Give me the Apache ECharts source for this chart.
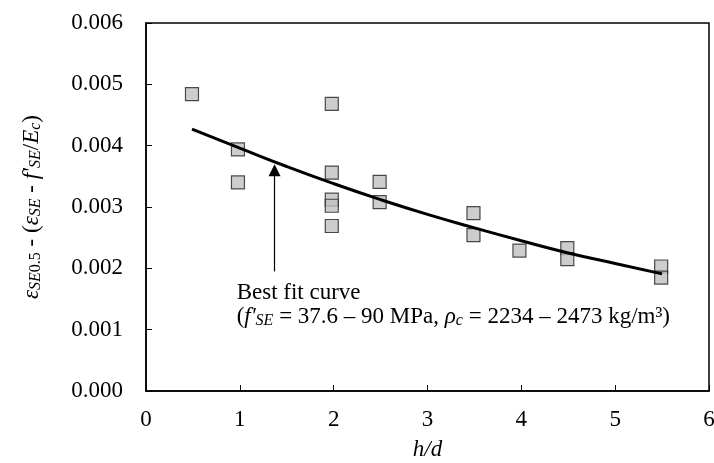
<!DOCTYPE html>
<html><head><meta charset="utf-8">
<script src="https://cdn.jsdelivr.net/npm/echarts@6/dist/echarts.min.js"></script>
<style>html,body{margin:0;padding:0;background:#fff}#c{width:714px;height:463px}</style>
</head><body><div id="c"></div>
<script>
// Measured data points (h/d vs strain)
const hd = [0.49, 0.98, 0.98, 1.98, 1.98, 1.98, 1.98, 1.98, 2.49, 2.49, 3.49, 3.49, 3.98, 4.49, 4.49, 5.49, 5.49];
const strain = [0.00484, 0.00394, 0.00340, 0.00468, 0.00356, 0.00312, 0.00302, 0.00269, 0.00341, 0.00308, 0.00290, 0.00254, 0.00229, 0.00233, 0.00215, 0.00203, 0.00185];
// Best fit curve
const fitHd = [0.49, 1.0, 1.5, 2.0, 2.5, 3.0, 3.5, 4.0, 4.5, 5.0, 5.5];
const fitStrain = [0.00427, 0.00396, 0.00366, 0.00338, 0.00312, 0.00288, 0.00266, 0.00245, 0.00225, 0.00208, 0.00191];
// Axis ranges
const xRange = [0, 6, 1];
const yRange = [0, 0.006, 0.001];
// Annotation
const arrowX = 1.37, arrowFrom = 0.00195, arrowTo = 0.00360;
const noteAt = [0.966, 0.00179];

const FONT = "'Liberation Serif', 'Times New Roman', serif";
const FS = 23;
const chart = echarts.init(document.getElementById('c'), null, {renderer: 'canvas'});

const sub = {fontFamily: FONT, fontSize: 16, fontStyle: 'italic', color: '#000', lineHeight: 10, verticalAlign: 'bottom'};
const subUp = {fontFamily: FONT, fontSize: 16, fontStyle: 'normal', color: '#000', lineHeight: 10, verticalAlign: 'bottom'};
const nrm = {fontFamily: FONT, fontSize: FS, color: '#000', lineHeight: 24};
const itl = {fontFamily: FONT, fontSize: FS, fontStyle: 'italic', color: '#000', lineHeight: 24};

chart.setOption({
  animation: false,
  grid: {left: 146, right: 5, top: 23, bottom: 72, outerBoundsMode: 'none', containLabel: false,
         show: true, borderColor: '#000', borderWidth: 1.5, backgroundColor: 'transparent'},
  xAxis: {
    type: 'value', min: xRange[0], max: xRange[1], interval: xRange[2],
    name: 'h/d', nameLocation: 'middle', nameGap: 47,
    nameTextStyle: {fontFamily: FONT, fontSize: FS, fontStyle: 'italic', color: '#000'},
    axisLine: {show: true, lineStyle: {color: '#000', width: 1.5}},
    axisTick: {show: true, inside: true, length: 6, lineStyle: {color: '#000', width: 1}},
    axisLabel: {fontFamily: FONT, fontSize: FS, color: '#000', margin: 17},
    splitLine: {show: false}
  },
  yAxis: {
    type: 'value', min: yRange[0], max: yRange[1], interval: yRange[2],
    name: '{i|ε}{s|SE}{su|0.5}{n| - (}{i|ε}{s|SE}{n| - }{i|f\'}{s|SE}{n|/}{i|E}{s|c}{n|)}',
    nameLocation: 'middle', nameGap: 102, nameRotate: 90,
    nameTextStyle: {fontFamily: FONT, fontSize: FS, color: '#000', rich: {i: itl, n: nrm, s: sub, su: subUp}},
    axisLine: {show: true, lineStyle: {color: '#000', width: 1.5}},
    axisTick: {show: true, inside: true, length: 6, lineStyle: {color: '#000', width: 1}},
    axisLabel: {fontFamily: FONT, fontSize: FS, color: '#000', margin: 23, formatter: v => v.toFixed(3)},
    splitLine: {show: false}
  },
  series: [
    {
      type: 'line', data: fitHd.map((x, i) => [x, fitStrain[i]]), smooth: true, showSymbol: false, symbol: 'none',
      lineStyle: {color: '#000', width: 3}, z: 3, silent: true,
      markLine: {
        silent: true, animation: false,
        symbol: ['none', 'triangle'], symbolSize: 12,
        label: {show: false},
        lineStyle: {color: '#000', width: 1.2, type: 'solid'},
        itemStyle: {color: '#000'},
        emphasis: {disabled: true},
        data: [[{coord: [arrowX, arrowFrom]}, {coord: [arrowX, arrowTo]}]]
      }
    },
    {
      type: 'scatter', data: hd.map((x, i) => [x, strain[i]]), symbol: 'rect', symbolSize: 13,
      itemStyle: {color: '#c0c0c0', borderColor: '#222', borderWidth: 1.2}, z: 2, silent: true
    }
  ]
});

const p = chart.convertToPixel({gridIndex: 0}, noteAt);
chart.setOption({
  graphic: [{
    type: 'text', left: p[0], top: p[1], silent: true,
    style: {
      text: '{n|Best fit curve}\n{n|(}{i|f\'}{s|SE}{n| = 37.6 – 90 MPa, }{i|ρ}{s|c}{n| = 2234 – 2473 kg/m³)}',
      fontFamily: FONT, fontSize: FS, fill: '#000',
      rich: {n: nrm, i: itl, s: sub}
    }
  }]
});
</script>
</body></html>
